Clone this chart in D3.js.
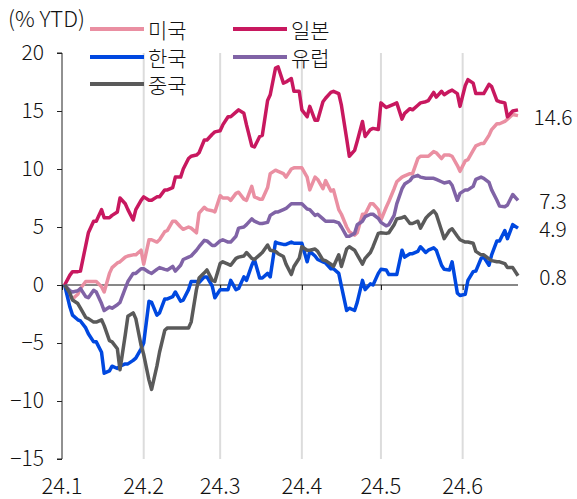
<!DOCTYPE html>
<html>
<head>
<meta charset="utf-8">
<script src="https://cdn.jsdelivr.net/npm/d3@7"></script>
<style>
  body { margin: 0; background: #fff; }
  text { font-family: "Noto Sans CJK KR", "Noto Sans", sans-serif; font-weight: 300; fill: #111; }
</style>
</head>
<body>
<div id="chart"></div>
<script>
const dates = [
  "2024-01-02","2024-01-04","2024-01-05","2024-01-07","2024-01-08","2024-01-10","2024-01-11","2024-01-13",
  "2024-01-14","2024-01-16","2024-01-17","2024-01-19","2024-01-20","2024-01-22","2024-01-23","2024-01-25",
  "2024-01-26","2024-01-28","2024-01-29","2024-01-31","2024-02-01","2024-02-03","2024-02-04","2024-02-06",
  "2024-02-07","2024-02-09","2024-02-10","2024-02-12","2024-02-13","2024-02-15","2024-02-16","2024-02-18",
  "2024-02-19","2024-02-21","2024-02-22","2024-02-24","2024-02-25","2024-02-27","2024-02-28","2024-03-01",
  "2024-03-02","2024-03-04","2024-03-05","2024-03-07","2024-03-08","2024-03-10","2024-03-11","2024-03-13",
  "2024-03-14","2024-03-16","2024-03-17","2024-03-19","2024-03-20","2024-03-22","2024-03-23","2024-03-25",
  "2024-03-26","2024-03-28","2024-03-29","2024-03-31","2024-04-01","2024-04-03","2024-04-04","2024-04-06",
  "2024-04-07","2024-04-09","2024-04-10","2024-04-12","2024-04-13","2024-04-15","2024-04-16","2024-04-18",
  "2024-04-19","2024-04-21","2024-04-22","2024-04-24","2024-04-25","2024-04-27","2024-04-28","2024-04-30",
  "2024-05-01","2024-05-03","2024-05-04","2024-05-06","2024-05-07","2024-05-09","2024-05-10","2024-05-12",
  "2024-05-13","2024-05-15","2024-05-16","2024-05-18","2024-05-19","2024-05-21","2024-05-22","2024-05-24",
  "2024-05-25","2024-05-27","2024-05-28","2024-05-30","2024-05-31","2024-06-02","2024-06-03","2024-06-05",
  "2024-06-06","2024-06-08","2024-06-09","2024-06-11","2024-06-12","2024-06-14","2024-06-15","2024-06-17",
  "2024-06-18","2024-06-20","2024-06-22"
];

const us = [
  0, -1.0, -1.2, -0.8, -0.3, 0.3, 0.3, 0.3, 0.3, -0.15, -0.6, 1.0, 1.5, 1.9, 2.0, 2.4,
  2.5, 2.6, 2.6, 3.0, 1.8, 3.9, 3.9, 3.7, 3.9, 4.6, 4.7, 5.5, 5.5, 5.0, 4.8, 5.0,
  4.9, 4.5, 6.2, 6.7, 6.5, 6.4, 6.3, 7.7, 7.5, 7.5, 7.3, 7.9, 8.0, 7.4, 7.3, 8.5,
  7.6, 7.4, 7.4, 8.4, 9.6, 9.9, 9.8, 9.6, 9.3, 10.0, 10.1, 10.1, 10.1, 9.3, 8.2, 9.3,
  9.1, 8.3, 9.0, 8.1, 8.2, 6.5, 6.1, 5.0, 4.6, 4.3, 4.5, 6.1, 6.1, 7.0, 7.0, 6.5,
  5.6, 6.7, 7.2, 8.3, 8.9, 9.3, 9.4, 9.6, 9.6, 10.9, 11.1, 11.1, 11.1, 11.5, 11.4, 10.9,
  11.2, 11.2, 11.1, 10.3, 9.8, 10.7, 10.8, 11.6, 12.0, 12.2, 12.2, 12.9, 13.4, 13.9, 13.9, 14.1,
  14.3, 14.7, 14.6
];

const japan = [
  0, 0.85, 1.15, 1.15, 1.2, 3.4, 4.5, 5.5, 5.5, 6.5, 5.8, 5.8, 6.0, 6.3, 7.5, 7.0,
  6.5, 5.6, 6.5, 7.3, 7.6, 7.3, 7.3, 7.6, 7.6, 8.2, 8.2, 8.4, 9.3, 9.3, 10.0, 10.9,
  11.1, 11.2, 11.4, 12.5, 12.5, 13.0, 13.2, 13.3, 13.8, 14.5, 14.5, 14.9, 15.1, 14.8, 13.8, 12.0,
  11.9, 12.8, 12.9, 15.9, 16.4, 18.7, 18.8, 17.4, 17.5, 17.8, 16.7, 16.7, 15.1, 14.5, 15.4, 14.2,
  14.2, 15.8, 16.1, 16.6, 16.7, 16.5, 15.5, 12.6, 11.1, 11.6, 12.4, 14.1, 12.8, 13.4, 13.5, 13.4,
  15.7, 15.3, 15.4, 15.6, 15.7, 14.3, 14.8, 15.2, 15.1, 15.5, 15.7, 15.8, 15.9, 16.6, 16.2, 16.7,
  16.4, 16.7, 16.8, 16.5, 15.4, 17.2, 17.7, 17.4, 16.5, 16.5, 16.5, 17.3, 17.1, 15.9, 15.8, 15.7,
  14.5, 15.0, 15.1
];

const korea = [
  0, -1.9, -2.6, -3.0, -3.1, -3.7, -4.2, -4.9, -4.9, -5.8, -7.6, -7.4, -7.0, -7.2, -7.0, -6.8,
  -6.8, -6.5, -6.3, -5.5, -5.0, -1.4, -1.5, -2.6, -2.4, -1.2, -1.2, -1.0, -0.6, -1.4, -1.3, -0.4,
  0.3, 0.3, 0.2, 0.7, 0.7, -0.1, -1.1, -0.4, -0.4, -0.4, 0.4, -0.4, -0.3, 0.7, 0.4, 1.7,
  2.2, 0.6, 0.6, 1.0, 0.7, 3.7, 3.6, 3.5, 3.5, 3.7, 3.6, 3.6, 3.6, 2.0, 2.9, 2.5,
  2.2, 2.0, 1.9, 1.4, 1.4, 1.0, -0.1, -2.2, -2.0, -2.2, -1.5, 0.4, -0.4, 0.1, 0.0, 1.0,
  1.35, 1.3, 0.9, 0.9, 0.9, 3.0, 2.4, 2.7, 2.7, 2.9, 3.3, 2.8, 3.0, 3.2, 3.0, 1.7,
  1.35, 1.3, 2.0, -0.7, -0.9, -0.8, 0.4, 1.15, 1.2, 2.3, 2.4, 1.7, 2.6, 3.8, 3.8, 4.7,
  4.0, 5.2, 4.9
];

const europe = [
  0, -0.5, -0.6, -0.5, -0.3, -1.0, -1.1, -0.45, -0.6, -1.6, -2.2, -1.9, -2.0, -1.7, -1.5, -0.3,
  0.3, 1.0, 1.0, 1.4, 1.4, 1.1, 1.0, 1.35, 1.5, 1.35, 1.3, 1.6, 1.2, 1.7, 2.2, 2.4,
  2.5, 3.0, 3.3, 3.85, 3.8, 3.4, 3.4, 3.8, 3.9, 3.7, 3.7, 4.2, 4.9, 5.0, 5.2, 5.7,
  5.5, 5.3, 5.3, 5.4, 6.0, 6.3, 6.3, 6.5, 6.6, 7.0, 7.0, 7.0, 7.0, 6.55, 6.5, 6.0,
  6.1, 5.7, 5.5, 5.5, 5.5, 5.35, 5.0, 4.2, 4.2, 4.45, 5.2, 5.5, 5.9, 6.1, 6.1, 5.75,
  5.4, 5.1, 5.2, 6.0, 7.0, 8.3, 8.7, 9.0, 9.3, 9.45, 9.3, 9.2, 9.2, 9.2, 9.1, 8.9,
  8.8, 8.9, 8.6, 7.3, 7.9, 8.2, 8.2, 8.5, 9.1, 9.3, 9.2, 8.85, 8.2, 7.3, 6.8, 6.75,
  6.9, 7.8, 7.3
];

const china = [
  0, -0.7, -1.3, -1.6, -2.0, -2.8, -2.9, -3.2, -3.2, -3.0, -3.5, -4.8, -4.9, -5.5, -7.3, -4.3,
  -2.7, -2.4, -2.9, -5.2, -6.0, -8.2, -9.0, -7.0, -5.8, -3.9, -3.7, -3.7, -3.7, -3.7, -3.7, -3.7,
  -3.2, -0.4, 0.6, 1.05, 1.3, 0.4, 0.3, 1.85, 2.0, 1.8, 1.7, 2.3, 2.4, 2.5, 2.8, 2.3,
  2.2, 2.6, 2.8, 3.45, 3.0, 2.9, 2.7, 2.45, 1.8, 0.9, 1.6, 2.3, 3.3, 3.0, 3.0, 3.1,
  2.9, 2.15, 2.1, 1.8, 1.6, 2.6, 1.6, 3.1, 3.3, 3.0, 2.6, 1.8, 2.3, 2.8, 3.3, 4.45,
  4.5, 4.45, 4.5, 5.2, 5.7, 5.8, 5.9, 5.3, 5.3, 5.5, 4.9, 5.75, 6.0, 6.4, 6.1, 4.7,
  4.0, 4.7, 4.85, 4.2, 3.9, 3.7, 3.7, 3.6, 2.9, 2.6, 2.6, 2.25, 2.1, 2.0, 2.0, 1.85,
  1.5, 1.5, 0.8
];

const seriesNames = ["미국", "일본", "한국", "유럽", "중국"];
const seriesColors = ["#ea8fa2", "#c8185f", "#0048e0", "#8063a6", "#5a5a5a"];
const seriesValues = [us, japan, korea, europe, china];

const monthLabels = ["24.1", "24.2", "24.3", "24.4", "24.5", "24.6"];
const monthStarts = ["2024-01-01", "2024-02-01", "2024-03-01", "2024-04-01", "2024-05-01", "2024-06-01"];
const yTicks = [20, 15, 10, 5, 0, -5, -10, -15];
const endLabels = ["14.6", "7.3", "4.9", "0.8"];

const width = 577, height = 499;
const parse = d3.timeParse("%Y-%m-%d");

const svg = d3.select("#chart").append("svg")
  .attr("width", width)
  .attr("height", height);

const x = d3.scaleTime()
  .domain([parse("2024-01-01"), parse("2024-06-22")])
  .range([62, 518]);

const y = d3.scaleLinear()
  .domain([-15, 20])
  .range([459, 53]);

// vertical grid at month starts
svg.selectAll(".grid")
  .data(monthStarts.slice(1))
  .join("line")
  .attr("x1", d => x(parse(d)))
  .attr("x2", d => x(parse(d)))
  .attr("y1", y(20))
  .attr("y2", y(-15))
  .attr("stroke", "#dcdcdc")
  .attr("stroke-width", 2);

// y axis
const yAxis = svg.append("g")
  .attr("transform", `translate(${x.range()[0]},0)`)
  .call(d3.axisLeft(y).tickValues(yTicks).tickSize(5).tickPadding(13).tickFormat(d3.format("d")));
yAxis.select(".domain").attr("stroke", "#222").attr("d", `M-5,${y(20)}H0V${y(-15)}H-5`);
yAxis.selectAll(".tick line").attr("stroke", "#222");
yAxis.selectAll(".tick text")
  .attr("font-size", "21px")
  .attr("fill", "#111")
  .attr("font-family", "\"Noto Sans CJK KR\", sans-serif");

// zero line with month ticks
const xAxis = svg.append("g")
  .attr("transform", `translate(0,${y(0)})`)
  .call(d3.axisBottom(x).tickValues(monthStarts.map(parse)).tickSize(5).tickFormat(""));
xAxis.select(".domain").attr("stroke", "#111").attr("d", `M${x.range()[0]},0H${x.range()[1]}`);
xAxis.selectAll(".tick line").attr("stroke", "#111");

// month labels at the bottom
svg.selectAll(".mlabel")
  .data(monthLabels)
  .join("text")
  .attr("x", (d, i) => x(parse(monthStarts[i])))
  .attr("y", 484)
  .attr("text-anchor", "middle")
  .attr("dominant-baseline", "central")
  .attr("font-size", "22px")
  .text(d => d);

// series lines
const line = d3.line()
  .x((d, i) => x(parse(dates[i])))
  .y(d => y(d));

svg.selectAll(".series")
  .data(seriesValues)
  .join("path")
  .attr("d", d => line(d))
  .attr("fill", "none")
  .attr("stroke", (d, i) => seriesColors[i])
  .attr("stroke-width", 3.5)
  .attr("stroke-linejoin", "round");

// end value labels
svg.selectAll(".end")
  .data(endLabels)
  .join("text")
  .attr("x", 553)
  .attr("y", d => y(+d))
  .attr("text-anchor", "middle")
  .attr("dominant-baseline", "central")
  .attr("font-size", "21px")
  .text(d => d);

// unit
svg.append("text")
  .attr("x", 8)
  .attr("y", 17)
  .attr("dominant-baseline", "central")
  .attr("font-size", "22px")
  .text("(% YTD)");

// legend: row-major, two columns
const legendPos = [[90, 29], [233, 29], [90, 57], [233, 57], [90, 84]];
const legend = svg.selectAll(".legend")
  .data(seriesNames)
  .join("g")
  .attr("transform", (d, i) => `translate(${legendPos[i][0]},${legendPos[i][1]})`);

legend.append("line")
  .attr("x1", 0).attr("x2", 54)
  .attr("stroke", (d, i) => seriesColors[i])
  .attr("stroke-width", 4);

legend.append("text")
  .attr("x", 58)
  .attr("dominant-baseline", "central")
  .attr("font-size", "21px")
  .text(d => d);
</script>
</body>
</html>
